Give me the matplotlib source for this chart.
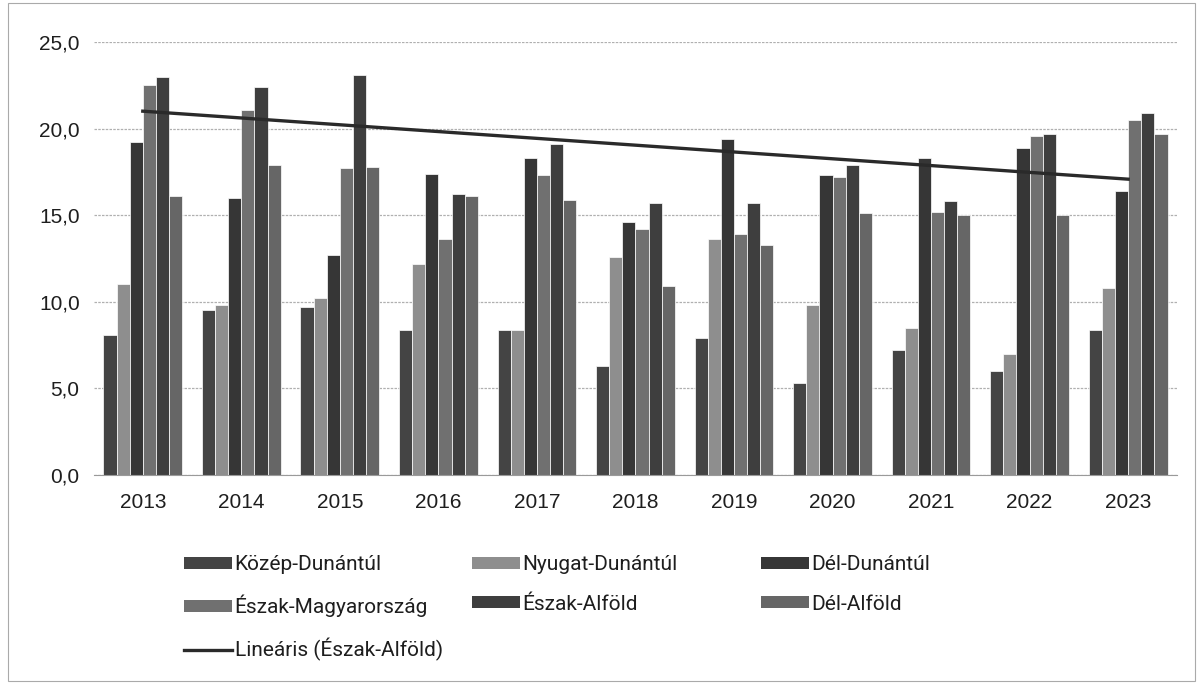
import numpy as np
import matplotlib
matplotlib.use("Agg")
import matplotlib.pyplot as plt
from matplotlib.patches import Patch, Rectangle
from matplotlib.lines import Line2D

plt.rcParams['font.family'] = ['Liberation Sans', 'DejaVu Sans']

# Years and regional values
years = ['2013', '2014', '2015', '2016', '2017', '2018', '2019', '2020', '2021', '2022', '2023']
regions = ['Közép-Dunántúl', 'Nyugat-Dunántúl', 'Dél-Dunántúl',
           'Észak-Magyarország', 'Észak-Alföld', 'Dél-Alföld']

kozep_dunantul = [8.1, 9.5, 9.7, 8.4, 8.4, 6.3, 7.9, 5.3, 7.2, 6.0, 8.4]
nyugat_dunantul = [11.0, 9.8, 10.2, 12.2, 8.4, 12.6, 13.6, 9.8, 8.5, 7.0, 10.8]
del_dunantul = [19.2, 16.0, 12.7, 17.4, 18.3, 14.6, 19.4, 17.3, 18.3, 18.9, 16.4]
eszak_magyarorszag = [22.5, 21.1, 17.7, 13.6, 17.3, 14.2, 13.9, 17.2, 15.2, 19.6, 20.5]
eszak_alfold = [23.0, 22.4, 23.1, 16.2, 19.1, 15.7, 15.7, 17.9, 15.8, 19.7, 20.9]
del_alfold = [16.1, 17.9, 17.8, 16.1, 15.9, 10.9, 13.3, 15.1, 15.0, 15.0, 19.7]

series = [kozep_dunantul, nyugat_dunantul, del_dunantul,
          eszak_magyarorszag, eszak_alfold, del_alfold]
colors = ['#444444', '#8e8e8e', '#363636', '#707070', '#3e3e3e', '#666666']

fig = plt.figure(figsize=(11.99, 6.85), dpi=100)
ax = fig.add_axes([0.078, 0.3066, 0.904, 0.632])

x = np.arange(len(years))
group = 0.8
w = group / len(series)
for i, (vals, c) in enumerate(zip(series, colors)):
    ax.bar(x - group / 2 + w * (i + 0.5), vals, width=w, color=c,
           edgecolor='white', linewidth=0.5, zorder=2)

# linear trend of Észak-Alföld
k, b = np.polyfit(x, eszak_alfold, 1)
ax.plot(x, k * x + b, color='#2a2a2a', lw=2.4, zorder=3)

ax.set_xlim(-0.5, len(years) - 0.5)
ax.set_ylim(0, 25)
ax.set_yticks(np.arange(0, 26, 5))
ax.set_yticklabels([f'{v:.1f}'.replace('.', ',') for v in np.arange(0, 26, 5)])
ax.set_xticks(x)
ax.set_xticklabels(years)
ax.tick_params(axis='both', length=0, labelsize=15, colors='#1e1e1e')
ax.tick_params(axis='x', pad=13)
ax.tick_params(axis='y', pad=10)
ax.grid(axis='y', color='#b0b0b0', lw=0.9, ls=(0, (2, 1)), zorder=0)
for s in ['top', 'right', 'left']:
    ax.spines[s].set_visible(False)
ax.spines['bottom'].set_color('#9a9a9a')

# legend in three columns
def patch(c):
    return Patch(facecolor=c, edgecolor='none')

cols = [
    ([patch(colors[0]), patch(colors[3]), Line2D([], [], color='#2a2a2a', lw=2.4)],
     [regions[0], regions[3], 'Lineáris (Észak-Alföld)'], 0.145),
    ([patch(colors[1]), patch(colors[4])], [regions[1], regions[4]], 0.385),
    ([patch(colors[2]), patch(colors[5])], [regions[2], regions[5]], 0.626),
]
for handles, labels, xpos in cols:
    leg = fig.legend(handles, labels, loc='upper left', bbox_to_anchor=(xpos, 0.205),
                     frameon=False, prop={'family': ['Roboto', 'DejaVu Sans'], 'size': 15},
                     handlelength=2.3, handleheight=0.5, handletextpad=0.12,
                     labelspacing=1.0, borderpad=0)
    for t in leg.get_texts():
        t.set_color('#1e1e1e')

# page border
fig.patches.append(Rectangle((0.007, 0.006), 0.99, 0.99, transform=fig.transFigure,
                             fill=False, edgecolor='#aaaaaa', lw=0.8))

fig.savefig('out.png', dpi=100)
